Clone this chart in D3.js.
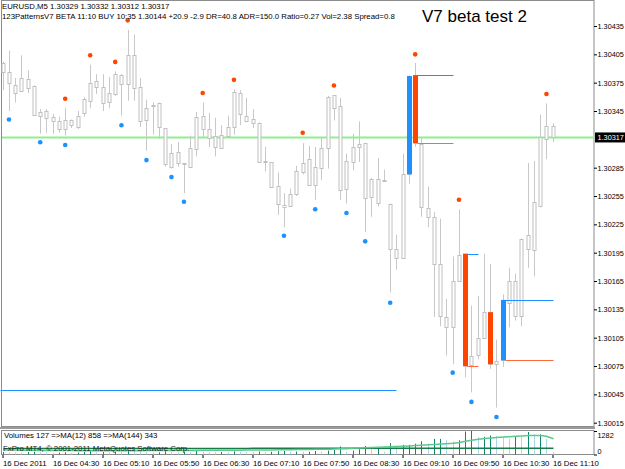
<!DOCTYPE html>
<html>
<head>
<meta charset="utf-8">
<script src="https://cdn.jsdelivr.net/npm/d3@7"></script>
<style>
body { margin: 0; background: #fff; }
text { font-family: "Liberation Sans", Arial, sans-serif; }
</style>
</head>
<body>
<div class="canva"></div>
<script>
// 5 minute bars, 16 Dec 2011 03:50 .. 11:10
const open = [1.30396,1.30386,1.30373,1.30366,1.30379,1.30371,1.30340,1.30345,1.30339,1.30334,
  1.30326,1.30335,1.30328,1.30343,1.30356,1.30377,1.30370,1.30354,1.30363,1.30383,
  1.30373,1.30404,1.30370,1.30335,1.30350,1.30353,1.30327,1.30286,1.30302,1.30290,
  1.30286,1.30305,1.30340,1.30326,1.30319,1.30306,1.30319,1.30328,1.30364,1.30340,
  1.30333,1.30332,1.30291,1.30291,1.30266,1.30246,1.30244,1.30257,1.30280,1.30294,
  1.30267,1.30285,1.30306,1.30362,1.30350,1.30262,1.30291,1.30307,1.30311,1.30254,
  1.30273,1.30272,1.30247,1.30199,1.30189,1.30278,1.30383,1.30310,1.30242,1.30233,
  1.30183,1.30127,1.30116,1.30166,1.30194,1.30076,1.30087,1.30104,1.30132,1.30077,
  1.30081,1.30142,1.30165,1.30128,1.30214,1.30198,1.30244,1.30315,1.30329];
const high = [1.30397,1.30409,1.30380,1.30404,1.30388,1.30372,1.30347,1.30347,1.30342,1.30339,
  1.30348,1.30336,1.30345,1.30360,1.30394,1.30384,1.30384,1.30381,1.30387,1.30384,
  1.30431,1.30426,1.30380,1.30357,1.30354,1.30354,1.30327,1.30310,1.30312,1.30290,
  1.30319,1.30344,1.30354,1.30343,1.30338,1.30330,1.30340,1.30368,1.30367,1.30359,
  1.30347,1.30333,1.30307,1.30291,1.30280,1.30258,1.30263,1.30287,1.30311,1.30308,
  1.30307,1.30317,1.30361,1.30362,1.30359,1.30300,1.30321,1.30334,1.30311,1.30274,
  1.30295,1.30283,1.30247,1.30214,1.30300,1.30383,1.30396,1.30316,1.30265,1.30238,
  1.30231,1.30146,1.30191,1.30241,1.30194,1.30139,1.30149,1.30194,1.30183,1.30103,
  1.30151,1.30179,1.30173,1.30210,1.30290,1.30292,1.30341,1.30353,1.30332];
const low = [1.30367,1.30345,1.30354,1.30365,1.30364,1.30340,1.30321,1.30322,1.30321,1.30322,
  1.30319,1.30327,1.30326,1.30339,1.30348,1.30363,1.30345,1.30348,1.30361,1.30340,
  1.30356,1.30356,1.30328,1.30303,1.30320,1.30316,1.30286,1.30284,1.30286,1.30258,
  1.30286,1.30297,1.30317,1.30307,1.30297,1.30306,1.30318,1.30320,1.30330,1.30333,
  1.30327,1.30290,1.30281,1.30265,1.30235,1.30222,1.30244,1.30255,1.30278,1.30266,
  1.30251,1.30272,1.30284,1.30335,1.30251,1.30247,1.30282,1.30291,1.30217,1.30233,
  1.30244,1.30270,1.30153,1.30177,1.30189,1.30268,1.30307,1.30233,1.30222,1.30127,
  1.30117,1.30086,1.30077,1.30166,1.30063,1.30047,1.30082,1.30104,1.30072,1.30031,
  1.30074,1.30116,1.30123,1.30117,1.30179,1.30170,1.30243,1.30294,1.30312];
const close = [1.30387,1.30374,1.30365,1.30380,1.30369,1.30340,1.30344,1.30338,1.30335,1.30326,
  1.30336,1.30330,1.30340,1.30358,1.30375,1.30371,1.30353,1.30364,1.30384,1.30373,
  1.30404,1.30369,1.30334,1.30348,1.30351,1.30328,1.30289,1.30301,1.30290,1.30289,
  1.30306,1.30339,1.30326,1.30316,1.30307,1.30320,1.30328,1.30365,1.30342,1.30335,
  1.30337,1.30291,1.30292,1.30265,1.30247,1.30244,1.30257,1.30281,1.30290,1.30266,
  1.30286,1.30306,1.30360,1.30348,1.30261,1.30292,1.30307,1.30310,1.30253,1.30273,
  1.30248,1.30271,1.30199,1.30190,1.30278,1.30382,1.30311,1.30243,1.30233,1.30183,
  1.30128,1.30116,1.30165,1.30193,1.30075,1.30086,1.30105,1.30132,1.30077,1.30080,
  1.30145,1.30165,1.30128,1.30210,1.30199,1.30249,1.30317,1.30329,1.30317];

const volume = [140,120,110,100,130,150,120,110,90,100,
  120,90,110,130,180,120,140,110,150,130,
  220,200,170,150,110,120,180,140,120,150,
  130,190,160,140,120,130,110,170,150,120,
  110,160,130,150,180,190,140,160,150,150,
  190,150,210,245,435,150,210,285,470,285,
  340,150,620,400,530,530,590,720,590,850,
  850,775,720,775,1250,1282,965,965,1040,1000,
  910,850,1000,965,1230,1100,1100,850,127];
const ma12 = [250,245,240,235,230,228,225,222,220,218,
  215,212,210,208,205,203,202,200,200,200,
  205,208,210,212,212,212,214,216,218,220,
  222,224,226,228,230,232,234,236,238,240,
  242,244,246,250,254,258,262,266,270,275,
  280,285,290,300,310,320,335,350,365,380,
  395,410,425,440,455,470,490,510,530,550,
  570,590,620,660,720,780,830,870,900,930,
  950,970,990,1010,1030,1040,1030,990,858];
const ma144 = [320,320,321,321,322,322,323,323,324,324,
  325,325,325,326,326,326,327,327,327,328,
  328,328,329,329,329,330,330,330,331,331,
  331,332,332,332,333,333,333,334,334,334,
  335,335,335,336,336,336,337,337,337,338,
  338,338,338,339,339,339,339,340,340,340,
  340,341,341,341,341,341,342,342,342,342,
  342,342,343,343,343,343,343,343,343,343,
  343,343,343,343,343,343,343,343,343];

const bullPattern = [65, 80];
const bearPattern = [66, 74, 78];
const upDots = [[10,1.30358],[14,1.30404],[18,1.30397],[20,1.30441],[32,1.30364],[37,1.30378],
  [48,1.30322],[53,1.30372],[66,1.30405],[73,1.30251],[87,1.30363]];
const downDots = [[1,1.30336],[6,1.30312],[10,1.30309],[19,1.30330],[23,1.30293],[27,1.30275],
  [29,1.30249],[45,1.30213],[50,1.30241],[55,1.30237],[58,1.30207],[62,1.30142],
  [72,1.30068],[75,1.30037],[79,1.30021]];
const levels = [[66,72,1.30383,1.30311],[74,76,1.30194,1.30075],[80,88,1.30145,1.30081]];
const longLine = [0, 63, 1.30050];
const bid = 1.30317;

const priceTicks = [1.30435,1.30405,1.30375,1.30345,1.30285,1.30255,1.30225,
  1.30195,1.30165,1.30135,1.30105,1.30075,1.30045,1.30015];
const timeTicks = [0,8,16,24,32,40,48,56,64,72,80,88];
const timeLabels = ["16 Dec 2011","16 Dec 04:30","16 Dec 05:10","16 Dec 05:50","16 Dec 06:30",
  "16 Dec 07:10","16 Dec 07:50","16 Dec 08:30","16 Dec 09:10","16 Dec 09:50","16 Dec 10:30","16 Dec 11:10"];

const W = 625, H = 469;
const svg = d3.select(".canva").append("svg").attr("width", W).attr("height", H);

const x = d3.scaleLinear().domain([0, 88]).range([2.7, 552.7]);
const y = d3.scaleLinear().domain([1.30015, 1.30435]).range([422.7, 26]);
const yv = d3.scaleLinear().domain([0, 1282]).range([454.5, 431]);
const px = i => Math.round(x(i)) + 0.5;

const idx = d3.range(open.length);
const blue = "#1e90ff", red = "#ff4500";

// frames
svg.append("rect").attr("x", 1.5).attr("y", 0.5).attr("width", 592.5).attr("height", 426)
  .attr("fill", "none").attr("stroke", "#8c8c8c");
svg.append("rect").attr("x", 0).attr("y", 427).attr("width", 595).attr("height", 2).attr("fill", "#9a9a9a");
svg.append("rect").attr("x", 1.5).attr("y", 430.5).attr("width", 592.5).attr("height", 24)
  .attr("fill", "none").attr("stroke", "#8c8c8c");

// long level line and bid line
svg.append("line").attr("x1", px(longLine[0]) - 3).attr("x2", px(longLine[1]))
  .attr("y1", Math.round(y(longLine[2])) + 0.5).attr("y2", Math.round(y(longLine[2])) + 0.5)
  .attr("stroke", blue).attr("stroke-width", 1);
svg.append("line").attr("x1", 2).attr("x2", 594).attr("y1", y(bid)).attr("y2", y(bid))
  .attr("stroke", "#90ee90").attr("stroke-width", 2);

// candles
const g = svg.append("g");
g.selectAll(".wick").data(idx).join("line")
  .attr("x1", px).attr("x2", px)
  .attr("y1", i => y(high[i])).attr("y2", i => y(low[i]))
  .attr("stroke", "#c8c8c8");
g.selectAll(".body").data(idx).join("rect")
  .attr("x", i => px(i) - 1.5).attr("width", 3)
  .attr("y", i => Math.round(y(Math.max(open[i], close[i]))) + 0.5)
  .attr("height", i => Math.max(0, Math.round(Math.abs(y(open[i]) - y(close[i])))))
  .attr("fill", "#fff").attr("stroke", "#c0c0c0");

// pattern bodies
const pat = bullPattern.map(i => [i, blue]).concat(bearPattern.map(i => [i, red]));
g.selectAll(".pat").data(pat).join("rect")
  .attr("x", d => px(d[0]) - 2.5).attr("width", 5)
  .attr("y", d => y(Math.max(open[d[0]], close[d[0]])))
  .attr("height", d => Math.abs(y(open[d[0]]) - y(close[d[0]])))
  .attr("fill", d => d[1]);

// pattern levels
levels.forEach(l => {
  svg.append("line").attr("x1", px(l[0]) + 2).attr("x2", px(l[1]))
    .attr("y1", Math.round(y(l[2])) + 0.5).attr("y2", Math.round(y(l[2])) + 0.5).attr("stroke", blue);
  svg.append("line").attr("x1", px(l[0]) + 2).attr("x2", px(l[1]))
    .attr("y1", Math.round(y(l[3])) + 0.5).attr("y2", Math.round(y(l[3])) + 0.5).attr("stroke", "#ff6a3d");
});

// dots
svg.selectAll(".up").data(upDots).join("circle")
  .attr("cx", d => x(d[0])).attr("cy", d => y(d[1])).attr("r", 2.3).attr("fill", red);
svg.selectAll(".dn").data(downDots).join("circle")
  .attr("cx", d => x(d[0])).attr("cy", d => y(d[1])).attr("r", 2.3).attr("fill", blue);

// price axis
const ay = svg.append("g").attr("transform", "translate(594,0)")
  .call(d3.axisRight(y).tickValues(priceTicks).tickSize(3).tickFormat(d3.format(".5f")));
ay.select(".domain").remove();
ay.selectAll("text").attr("font-size", 7.3).attr("x", 3.5).attr("font-family", "Liberation Sans, Arial");
svg.append("rect").attr("x", 595).attr("y", y(bid) - 5).attr("width", 30).attr("height", 10).attr("fill", "#000");
svg.append("text").text(bid.toFixed(5)).attr("x", 597.5).attr("y", y(bid) + 2.8)
  .attr("fill", "#fff").attr("font-size", 7.3);

// volumes
const vg = svg.append("g");
vg.selectAll("line").data(idx).join("line")
  .attr("x1", px).attr("x2", px)
  .attr("y1", yv(0)).attr("y2", i => yv(volume[i]))
  .attr("stroke", i => i > 0 && volume[i] < volume[i - 1] ? "#a8d8e4" : "#0a8a6a");
svg.append("path").datum(idx)
  .attr("d", d3.line().x(px).y(i => yv(ma144[i])))
  .attr("fill", "none").attr("stroke", "#1a7a4a").attr("stroke-width", 1.5);
svg.append("path").datum(idx)
  .attr("d", d3.line().x(px).y(i => yv(ma12[i])))
  .attr("fill", "none").attr("stroke", "#5cc88a").attr("stroke-width", 1.5);

svg.append("text").text("Volumes 127  =>MA(12) 858  =>MA(144) 343")
  .attr("x", 4).attr("y", 438).attr("font-size", 7.8);
svg.append("text").text("FxPro MT4, \u00a9 2001-2011 MetaQuotes Software Corp.")
  .attr("x", 3).attr("y", 451).attr("font-size", 7.8).attr("fill", "#222");

const av = svg.append("g").attr("transform", "translate(594,0)")
  .call(d3.axisRight(yv).tickValues([1282, 0]).tickSize(3).tickFormat(d3.format("d")));
av.select(".domain").remove();
av.selectAll("text").attr("font-size", 7.3).attr("x", 3.5);
av.selectAll(".tick").filter(d => d === 1282).select("text").attr("dy", "0.9em");
av.selectAll(".tick").filter(d => d === 0).select("text").attr("dy", "-0.1em");

// time axis
const ax = svg.append("g").attr("transform", "translate(0,455)")
  .call(d3.axisBottom(x).tickValues(timeTicks).tickSize(3).tickFormat((d, i) => timeLabels[i]));
ax.select(".domain").remove();
ax.selectAll(".tick").attr("transform", d => "translate(" + (px(d) - 0.5) + ",0)");
ax.selectAll("text").attr("font-size", 7.8).attr("text-anchor", "start").attr("x", 0).attr("y", 5);

// header
svg.append("text").text("EURUSD,M5  1.30329 1.30332 1.30312 1.30317")
  .attr("x", 2).attr("y", 9).attr("font-size", 7.8);
svg.append("text").text("123PatternsV7 BETA   11:10   BUY 10:35 1.30144 +20.9 -2.9   DR=40.8   ADR=150.0   Ratio=0.27   Vol=2.38   Spread=0.8")
  .attr("x", 2).attr("y", 19).attr("font-size", 7.8);
svg.append("text").text("V7 beta test 2")
  .attr("x", 422).attr("y", 22).attr("font-size", 17);
</script>
</body>
</html>
